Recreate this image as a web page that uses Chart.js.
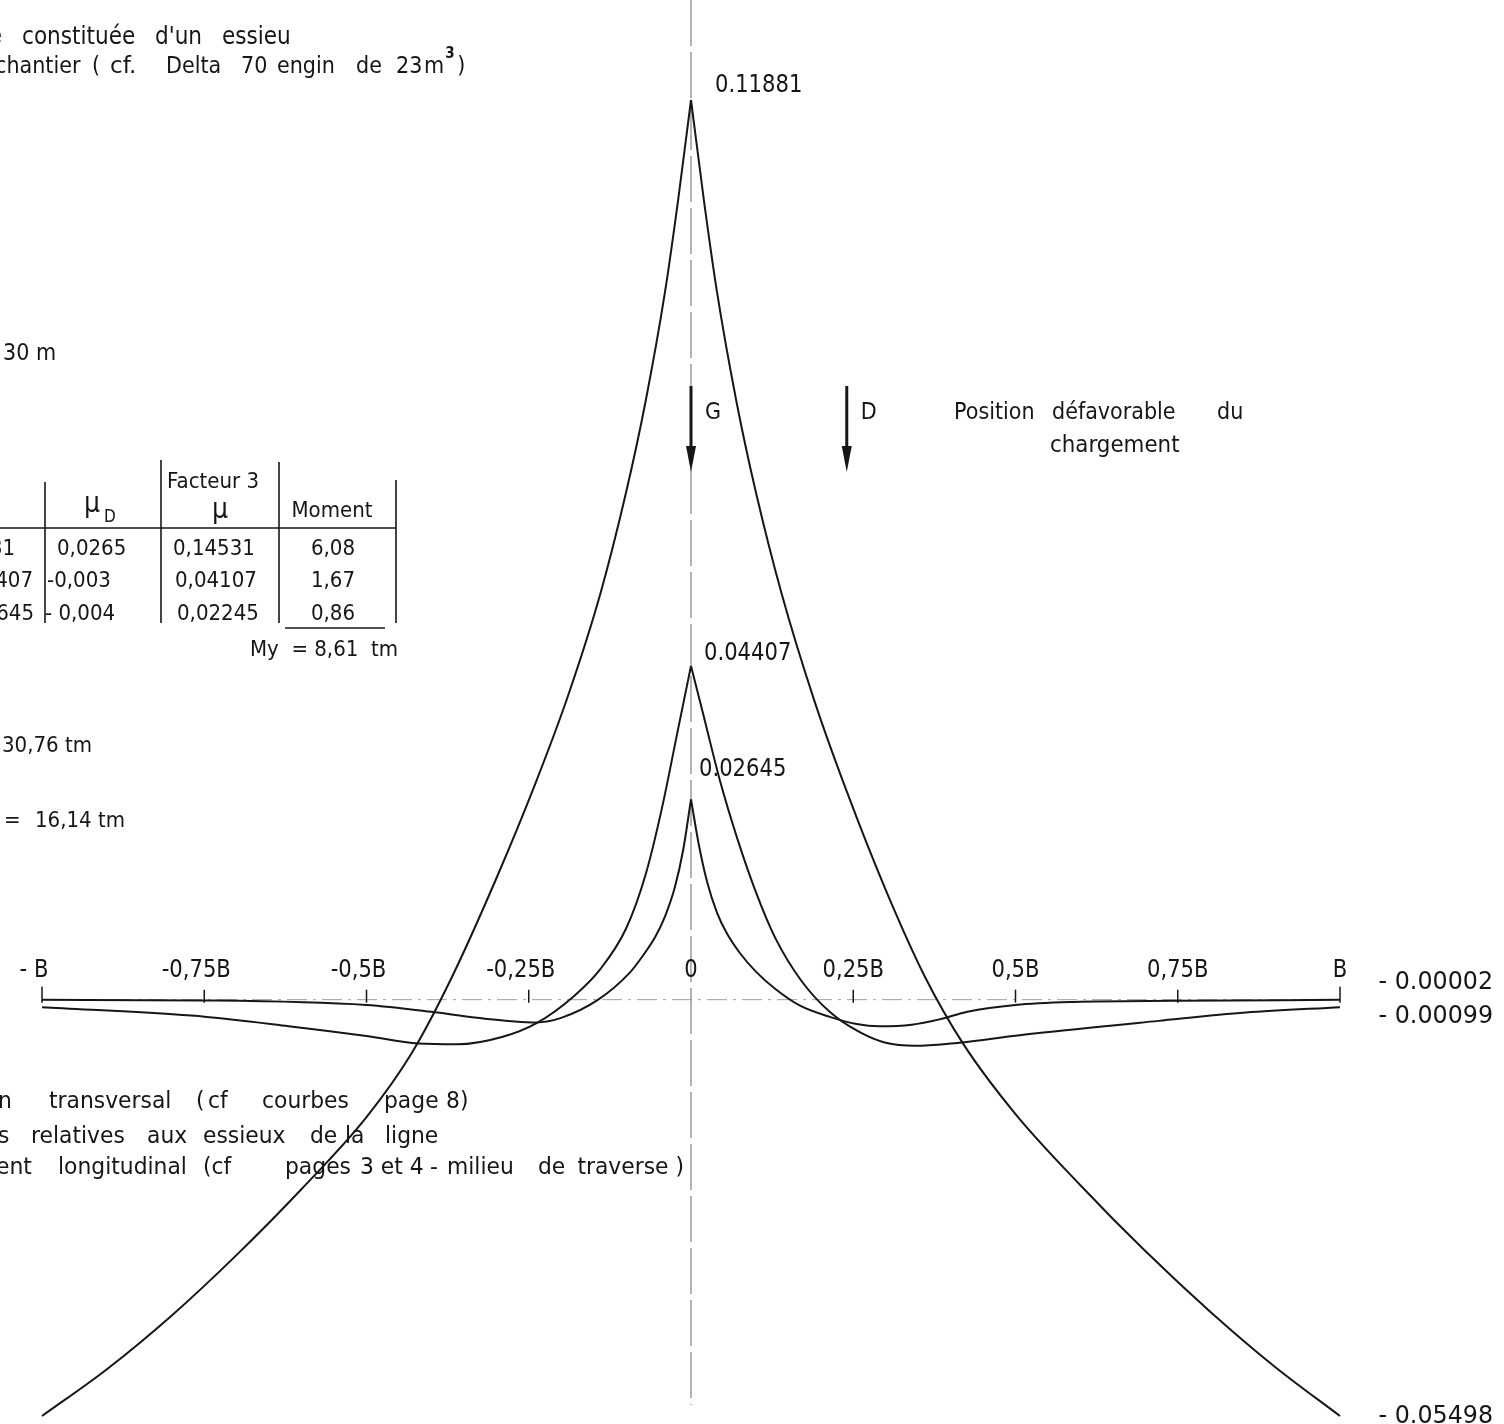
<!DOCTYPE html>
<html>
<head>
<meta charset="utf-8">
<script src="https://cdn.jsdelivr.net/npm/chart.js@4.4.1/dist/chart.umd.min.js"></script>
<style>
  html, body { margin: 0; padding: 0; background: #fff; }
  canvas { display: block; }
</style>
</head>
<body>
<canvas id="chart" width="1504" height="1424"></canvas>
<script>
// Transverse distribution coefficients mu along the deck width (abscissa in units of B).
// Each curve is split at its apex so the cusp on the axis stays sharp.
const mu1LeftX  = [-1, -0.9, -0.8, -0.7, -0.6, -0.5, -0.43, -0.37, -0.30, -0.24, -0.19, -0.14, -0.10, -0.07, -0.04, -0.02, 0];
const mu1LeftY  = [-0.05498, -0.0488, -0.0417, -0.0337, -0.0250, -0.0155, -0.0070, 0.0027, 0.0160, 0.0285, 0.0400, 0.0535, 0.0670, 0.0790, 0.0935, 0.1055, 0.11881];
const mu1RightX = [0, 0.02, 0.04, 0.07, 0.10, 0.14, 0.19, 0.24, 0.30, 0.36, 0.42, 0.5, 0.6, 0.7, 0.8, 0.9, 1];
const mu1RightY = [0.11881, 0.1055, 0.0935, 0.0790, 0.0670, 0.0535, 0.0395, 0.0275, 0.0145, 0.0031, -0.0059, -0.0151, -0.0245, -0.0332, -0.0412, -0.0485, -0.05498];

const mu3LeftX  = [-1, -0.77, -0.62, -0.5, -0.42, -0.36, -0.29, -0.238, -0.18, -0.14, -0.10, -0.07, -0.045, -0.02, 0];
const mu3LeftY  = [-0.00099, -0.0021, -0.0035, -0.0048, -0.0058, -0.0059, -0.0049, -0.0031, 0.0005, 0.0040, 0.0094, 0.0165, 0.0252, 0.0357, 0.04407];
const mu3RightX = [0, 0.02, 0.045, 0.072, 0.10, 0.129, 0.17, 0.215, 0.26, 0.30, 0.345, 0.40, 0.525, 0.72, 0.855, 1];
const mu3RightY = [0.04407, 0.0373, 0.0288, 0.0211, 0.0142, 0.0083, 0.0025, -0.0017, -0.0043, -0.0057, -0.0061, -0.0058, -0.0045, -0.0028, -0.0017, -0.00099];

const mu5LeftX  = [-1, -0.75, -0.5, -0.4, -0.33, -0.238, -0.2, -0.143, -0.095, -0.075, -0.055, -0.04, -0.025, -0.012, 0];
const mu5LeftY  = [-0.00002, -0.0001, -0.0007, -0.0016, -0.0024, -0.0030, -0.0024, 0.0, 0.0035, 0.0057, 0.0083, 0.0110, 0.0148, 0.0198, 0.02645];
const mu5RightX = [0, 0.012, 0.025, 0.04, 0.055, 0.075, 0.1, 0.13, 0.168, 0.215, 0.255, 0.29, 0.34, 0.383, 0.426, 0.5, 0.59, 0.75, 1];
const mu5RightY = [0.02645, 0.0205, 0.0155, 0.0115, 0.0088, 0.0062, 0.0037, 0.0014, -0.0008, -0.0023, -0.0032, -0.0035, -0.0033, -0.0026, -0.0016, -0.0007, -0.0003, -0.00015, -0.00002];

// Axis graduation along the width
const tickValues = [-1, -0.75, -0.5, -0.25, 0, 0.25, 0.5, 0.75, 1];
const tickLabels = ['- B', '-0,75B', '-0,5B', '-0,25B', '0', '0,25B', '0,5B', '0,75B', 'B'];

// Unfavourable load position: axle wheels G and D
const loadPositions = [0, 0.24];
const loadNames = ['G', 'D'];

// Moment table
const colMuG    = ['0,11881', '0,04407', '0,02645'];
const colMuD    = ['0,0265', '-0,003', '- 0,004'];
const colMu     = ['0,14531', '0,04107', '0,02245'];
const colMoment = ['6,08', '1,67', '0,86'];
const totalMoment = 'My  = 8,61  tm';

const FONT = '"DejaVu Sans", sans-serif';
const INK = '#161616';
const SQ = 0.9;

function pts(xs, ys) { return xs.map((x, i) => ({ x: x, y: ys[i] })); }
function fmtSigned(v) { return (v < 0 ? '- ' : '') + Math.abs(v).toFixed(5); }

// Slightly condensed lettering; yc is the vertical centre of the capitals
function txt(ctx, str, x, yc, size, align, opts) {
  opts = opts || {};
  const sq = opts.sq || SQ;
  ctx.save();
  ctx.font = (opts.weight || 'normal') + ' ' + size + 'px ' + FONT;
  ctx.textBaseline = 'alphabetic';
  ctx.fillStyle = INK;
  const w = ctx.measureText(str).width * sq;
  let x0 = x;
  if (align === 'center') x0 = x - w / 2;
  else if (align === 'right') x0 = x - w;
  ctx.translate(x0, yc + size * 0.36);
  ctx.scale(sq, 1);
  ctx.fillText(str, 0, 0);
  ctx.restore();
  return x0 + w;
}
function line(ctx, x0, y0, x1, y1, w, color, dash) {
  ctx.save();
  ctx.strokeStyle = color || INK;
  ctx.lineWidth = w;
  ctx.setLineDash(dash || []);
  ctx.beginPath();
  ctx.moveTo(x0, y0);
  ctx.lineTo(x1, y1);
  ctx.stroke();
  ctx.restore();
}

const drawingPlugin = {
  id: 'drawing',
  beforeDatasetsDraw(chart) {
    const ctx = chart.ctx;
    const xs = chart.scales.x, ys = chart.scales.y;
    const x0 = xs.getPixelForValue(0);
    const yZero = ys.getPixelForValue(0);
    // centre line of the deck
    line(ctx, x0, 0, x0, 1405, 1, '#666', [46, 6]);
    // width axis
    line(ctx, xs.getPixelForValue(-1), yZero, xs.getPixelForValue(1), yZero, 1, '#a0a0a0', [20, 6, 3, 6]);
    tickValues.forEach(v => {
      if (v === 0) return;
      const px = xs.getPixelForValue(v);
      const h = Math.abs(v) === 1 ? 13 : 10;
      line(ctx, px, yZero - h, px, yZero + 3, 1.5, INK);
    });
  },
  afterDatasetsDraw(chart) {
    const ctx = chart.ctx;
    const xs = chart.scales.x, ys = chart.scales.y;
    const X = v => xs.getPixelForValue(v);
    const Y = v => ys.getPixelForValue(v);
    const x0 = X(0);

    // heading lines
    txt(ctx, 'e', 2, 35, 23, 'right');
    txt(ctx, 'constituée', 22, 35, 24);
    txt(ctx, "d'un", 155, 35, 24);
    txt(ctx, 'essieu', 222, 35, 24);
    txt(ctx, 'chantier', -5, 65, 23);
    txt(ctx, '(', 92, 65, 23);
    txt(ctx, 'cf.', 110, 65, 23, 'left', { sq: 1.0 });
    txt(ctx, 'Delta', 166, 65, 23);
    txt(ctx, '70', 241, 65, 23);
    txt(ctx, 'engin', 277, 65, 23);
    txt(ctx, 'de', 356, 65, 23);
    txt(ctx, '23', 396, 65, 23);
    const mEnd = txt(ctx, 'm', 424, 65, 23);
    txt(ctx, '3', mEnd + 1, 53, 15, 'left', { weight: 'bold' });
    txt(ctx, ')', mEnd + 13, 65, 23);

    // value labels at the apexes and at the edge
    const lab = { sq: 0.88 };
    txt(ctx, mu1RightY[0].toFixed(5), x0 + 24, Y(mu1RightY[0]) - 17, 24, 'left', lab);
    txt(ctx, mu3RightY[0].toFixed(5), x0 + 13, Y(mu3RightY[0]) - 15, 24, 'left', lab);
    txt(ctx, mu5RightY[0].toFixed(5), x0 + 8, Y(mu5RightY[0]) - 32, 24, 'left', lab);
    const xb = X(1);
    const e5 = mu5RightY[mu5RightY.length - 1], e3 = mu3RightY[mu3RightY.length - 1], e1 = mu1RightY[mu1RightY.length - 1];
    const edge = { sq: 0.99 };
    txt(ctx, fmtSigned(e5), xb + 153, Y(e5) - 19, 24, 'right', edge);
    txt(ctx, fmtSigned(e3), xb + 153, Y(e3) + 7, 24, 'right', edge);
    txt(ctx, fmtSigned(e1), xb + 153, Y(e1) - 2, 24, 'right', edge);

    // span note
    txt(ctx, '30 m', 3, 352, 23);

    // load arrows
    loadPositions.forEach((p, i) => {
      const px = X(p);
      line(ctx, px, 386, px, 452, 3, INK);
      ctx.save();
      ctx.fillStyle = INK;
      ctx.beginPath();
      ctx.moveTo(px - 5, 446);
      ctx.lineTo(px + 5, 446);
      ctx.lineTo(px, 472);
      ctx.closePath();
      ctx.fill();
      ctx.restore();
      txt(ctx, loadNames[i], px + 14, 411, 23);
    });
    txt(ctx, 'Position', 954, 411, 23);
    txt(ctx, 'défavorable', 1052, 411, 23);
    txt(ctx, 'du', 1217, 411, 23);
    txt(ctx, 'chargement', 1050, 444, 23, 'left', { sq: 0.93 });

    // moment table
    const tl = (a, b, c, d) => line(ctx, a, b, c, d, 1.6, INK);
    tl(45, 482, 45, 623);
    tl(161, 460, 161, 623);
    tl(279, 462, 279, 623);
    tl(396, 480, 396, 623);
    tl(0, 528, 396, 528);
    tl(285, 628, 385, 628);
    txt(ctx, 'Facteur 3', 167, 480, 22);
    txt(ctx, 'μ', 220, 508, 28, 'center');
    txt(ctx, 'μ', 84, 502, 28);
    txt(ctx, 'D', 104, 516, 17);
    txt(ctx, 'Moment', 332, 509, 22, 'center');
    const rowsY = [547, 579, 612];
    const col1R = [15, 33, 34];
    const col2L = [57, 47, 45];
    const col3L = [173, 175, 177];
    rowsY.forEach((yy, i) => {
      txt(ctx, colMuG[i], col1R[i], yy, 22, 'right');
      txt(ctx, colMuD[i], col2L[i], yy, 22);
      txt(ctx, colMu[i], col3L[i], yy, 22);
      txt(ctx, colMoment[i], 333, yy, 22, 'center');
    });
    txt(ctx, totalMoment, 398, 648, 22, 'right');

    txt(ctx, '30,76 tm', 2, 744, 22);
    txt(ctx, '=', 4, 819, 22);
    txt(ctx, '16,14 tm', 35, 819, 22);

    // graduation labels
    tickLabels.forEach((t, i) => {
      const off = t.charAt(0) === '-' ? -8 : 0;
      txt(ctx, t, X(tickValues[i]) + off, 968, 24, 'center', lab);
    });

    // notes below the axis
    const body = { sq: 0.95 };
    const notes = [
      [1100, [['n', -2], ['transversal', 49], ['(', 196], ['cf', 208], ['courbes', 262], ['page', 384], ['8)', 446]]],
      [1135, [['s', -2], ['relatives', 31], ['aux', 147], ['essieux', 203], ['de', 310], ['la', 345], ['ligne', 385]]],
      [1166, [['ent', -4], ['longitudinal', 58], ['(cf', 203], ['pages', 285], ['3 et 4', 360], ['-', 430], ['milieu', 447], ['de', 538]]]
    ];
    notes.forEach(([yy, words]) => words.forEach(([w, a]) => txt(ctx, w, a, yy, 23, 'left', body)));
    txt(ctx, 'traverse )', 684, 1166, 23, 'right', body);
  }
};

const curveStyle = {
  showLine: true,
  borderColor: INK,
  borderWidth: 2,
  pointRadius: 0,
  fill: false,
  cubicInterpolationMode: 'monotone',
  clip: false
};

new Chart(document.getElementById('chart'), {
  type: 'scatter',
  data: {
    datasets: [
      Object.assign({ label: 'mu1 G', data: pts(mu1LeftX, mu1LeftY) }, curveStyle),
      Object.assign({ label: 'mu1 D', data: pts(mu1RightX, mu1RightY) }, curveStyle),
      Object.assign({ label: 'mu3 G', data: pts(mu3LeftX, mu3LeftY) }, curveStyle),
      Object.assign({ label: 'mu3 D', data: pts(mu3RightX, mu3RightY) }, curveStyle),
      Object.assign({ label: 'mu5 G', data: pts(mu5LeftX, mu5LeftY) }, curveStyle),
      Object.assign({ label: 'mu5 D', data: pts(mu5RightX, mu5RightY) }, curveStyle)
    ]
  },
  options: {
    responsive: false,
    animation: false,
    devicePixelRatio: 1,
    layout: { padding: { left: 42, right: 164, top: 100, bottom: 8 } },
    plugins: { legend: { display: false }, tooltip: { enabled: false } },
    scales: {
      x: { type: 'linear', min: Math.min(...mu1LeftX), max: Math.max(...mu1RightX), display: false },
      y: { type: 'linear', min: Math.min(...mu1RightY), max: Math.max(...mu1RightY), display: false }
    }
  },
  plugins: [drawingPlugin]
});
</script>
</body>
</html>
